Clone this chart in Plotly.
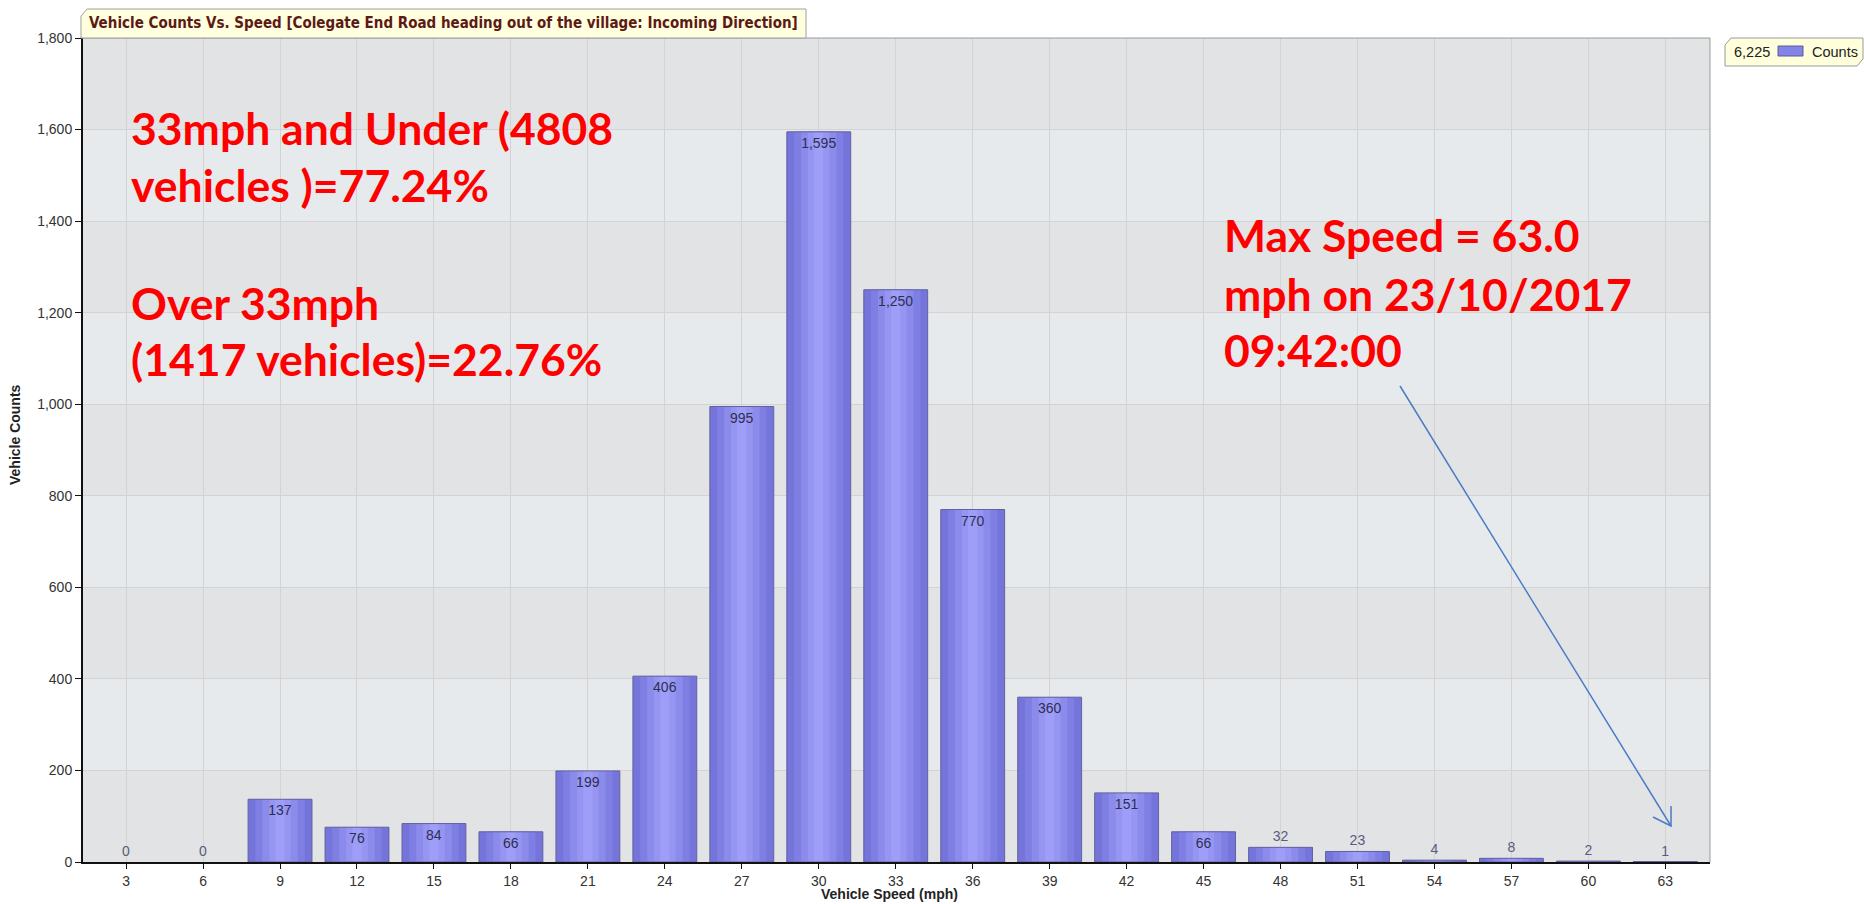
import plotly.graph_objects as go

# ---------------- data ----------------
speeds = ["3", "6", "9", "12", "15", "18", "21", "24", "27", "30", "33",
          "36", "39", "42", "45", "48", "51", "54", "57", "60", "63"]
counts = [0, 0, 137, 76, 84, 66, 199, 406, 995, 1595, 1250,
          770, 360, 151, 66, 32, 23, 4, 8, 2, 1]
y_ticks = [0, 200, 400, 600, 800, 1000, 1200, 1400, 1600, 1800]
total_label = "6,225"
chart_title = "Vehicle Counts Vs. Speed [Colegate End Road heading out of the village: Incoming Direction]"
note_under = ["33mph and Under (4808", "vehicles )=77.24%"]
note_over = ["Over 33mph", "(1417 vehicles)=22.76%"]
note_max = ["Max Speed = 63.0", "mph on 23/10/2017", "09:42:00"]

# ---------------- layout geometry (pixels) ----------------
W, H = 1864, 904
L, R, T, B = 83, 1710, 38, 862


def px(x):
    return (x - L) / (R - L)


def py(y):
    return (B - y) / (B - T)


fig = go.Figure()

# stepped gradient bars (same data, narrower & lighter layers)
layers = [(0.83, "#7474db"), (0.64, "#7f7fe3"), (0.46, "#8b8beb"),
          (0.28, "#9696f2"), (0.12, "#9e9ef8")]
for w, c in layers:
    fig.add_trace(go.Bar(x=speeds, y=counts, width=w, marker_color=c,
                         marker_line_width=0, hoverinfo="skip",
                         showlegend=False))

positions = ["inside" if v >= 60 else "outside" for v in counts]
tcolors = ["#2e2e52" if v >= 60 else "#5a5a82" for v in counts]
lwidths = [1 if v > 0 else 0 for v in counts]
fig.add_trace(go.Bar(
    x=speeds, y=counts, width=0.83, name="Counts",
    marker=dict(color="rgba(0,0,0,0)", line=dict(color="#62629e", width=lwidths)),
    text=counts, texttemplate="%{y:,}", textposition=positions,
    insidetextanchor="end", constraintext="none", cliponaxis=False,
    textfont=dict(family="Liberation Sans, Arial", size=14, color=tcolors),
    showlegend=False,
))

shapes = []
# alternating background bands
for i in range(len(y_ticks) - 1):
    if i % 2 == 1:
        shapes.append(dict(type="rect", xref="paper", yref="y", x0=0, x1=1,
                           y0=y_ticks[i], y1=y_ticks[i + 1],
                           fillcolor="#e7eaed", line_width=0, layer="below"))
# top and right border of plot area
shapes.append(dict(type="line", xref="paper", yref="paper", x0=0, x1=1, y0=1, y1=1,
                   line=dict(color="#9a9a9a", width=1)))
shapes.append(dict(type="line", xref="paper", yref="paper", x0=1, x1=1, y0=0, y1=1,
                   line=dict(color="#9a9a9a", width=1)))


def poly(pts, close=True):
    d = "M " + " L ".join(f"{px(x):.5f},{py(y):.5f}" for x, y in pts)
    return d + (" Z" if close else "")


# title box (chamfered)
shapes.append(dict(type="path", xref="paper", yref="paper",
                   path=poly([(81, 38), (81, 16), (87, 9), (806, 9), (806, 38)]),
                   fillcolor="#ffffe0", line=dict(color="#a0a0a0", width=1)))
# legend box (chamfered)
shapes.append(dict(type="path", xref="paper", yref="paper",
                   path=poly([(1725, 66), (1725, 45), (1731, 38), (1863, 38),
                              (1863, 59), (1857, 66)]),
                   fillcolor="#ffffdc", line=dict(color="#9a9a9a", width=1)))
shapes.append(dict(type="rect", xref="paper", yref="paper",
                   x0=px(1778), x1=px(1803), y0=py(56), y1=py(46),
                   fillcolor="#8484e6", line=dict(color="#5a5a9a", width=1)))

# arrow pointing to max speed bar
arrow_col = "#4a7cc4"
shapes.append(dict(type="path", xref="paper", yref="paper",
                   path=poly([(1400, 386), (1671, 826)], close=False),
                   line=dict(color=arrow_col, width=1.5)))
shapes.append(dict(type="path", xref="paper", yref="paper",
                   path=poly([(1653, 817), (1671, 826), (1671, 806)], close=False),
                   line=dict(color=arrow_col, width=1.5)))

annotations = []
annotations.append(dict(xref="paper", yref="paper", x=px(87), y=py(23),
                        xanchor="left", yanchor="middle", showarrow=False,
                        text=f"<b>{chart_title}</b>",
                        font=dict(family="DejaVu Sans Condensed, Liberation Sans", size=15,
                                  color="#5c1a14")))
annotations.append(dict(xref="paper", yref="paper", x=px(1732), y=py(52),
                        xanchor="left", yanchor="middle", showarrow=False,
                        text=total_label,
                        font=dict(family="Liberation Sans, Arial", size=14.5, color="#222")))
annotations.append(dict(xref="paper", yref="paper", x=px(1810), y=py(52),
                        xanchor="left", yanchor="middle", showarrow=False,
                        text="Counts",
                        font=dict(family="Liberation Sans, Arial", size=14.5, color="#222")))
# axis titles
annotations.append(dict(xref="paper", yref="paper", x=px(15), y=py(435),
                        xanchor="center", yanchor="middle", showarrow=False,
                        textangle=-90, text="<b>Vehicle Counts</b>",
                        font=dict(family="Liberation Sans, Arial", size=14, color="#222")))
annotations.append(dict(xref="paper", yref="paper", x=px(889), y=py(894),
                        xanchor="center", yanchor="middle", showarrow=False,
                        text="<b>Vehicle Speed (mph)</b>",
                        font=dict(family="Liberation Sans, Arial", size=14, color="#222")))

red_font = dict(family="Lato, Open Sans, sans-serif", size=44.5, color="#ff0000")


def red_lines(lines, x, ys):
    for t, yy in zip(lines, ys):
        annotations.append(dict(xref="paper", yref="paper", x=px(x), y=py(yy),
                                xanchor="left", yanchor="middle", showarrow=False,
                                text=f"<b>{t}</b>", font=red_font))


red_lines(note_under, 129, [128, 184])
red_lines(note_over, 129, [302, 358])
red_lines(note_max, 1222, [235, 293, 349])

fig.update_layout(
    width=W, height=H,
    margin=dict(l=L, r=W - R, t=T, b=H - B, pad=0),
    paper_bgcolor="white", plot_bgcolor="#e2e3e5",
    barmode="overlay", showlegend=False,
    shapes=shapes, annotations=annotations,
    font=dict(family="Liberation Sans, Arial", size=12, color="#333"),
    xaxis=dict(type="category", range=[-0.56, 20.58], showgrid=True,
               gridcolor="#d3d3d3", gridwidth=1, ticks="outside", ticklen=5,
               tickcolor="#111", showline=True, linecolor="#111", linewidth=2,
               tickfont=dict(size=14, color="#333"), zeroline=False, fixedrange=True),
    yaxis=dict(range=[0, 1800], tickvals=y_ticks, tickformat=",", showgrid=True,
               gridcolor="#d3d3d3", gridwidth=1, ticks="outside", ticklen=6,
               tickcolor="#111", showline=True, linecolor="#111", linewidth=2,
               tickfont=dict(size=14, color="#333"), zeroline=False, fixedrange=True),
)

fig.write_html("out.html", config={"displayModeBar": False},
               post_script="document.body.style.margin='0';document.body.style.overflow='hidden';")
